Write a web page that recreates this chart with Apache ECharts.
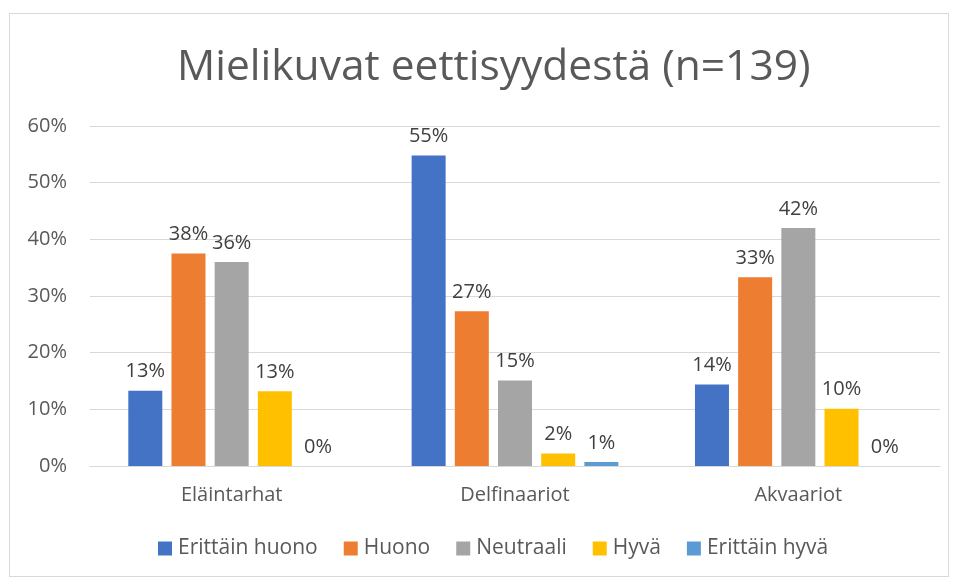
<!DOCTYPE html>
<html>
<head>
<meta charset="utf-8">
<script src="https://cdn.jsdelivr.net/npm/echarts@6/dist/echarts.min.js"></script>
<style>
  html, body { margin: 0; padding: 0; background: #fff; }
  #frame { position: absolute; left: 9px; top: 13px; width: 940px; height: 564px; border: 1px solid #d9d9d9; box-sizing: border-box; }
  #chart { position: absolute; left: 0; top: 0; width: 955px; height: 580px; }
</style>
</head>
<body>
<div id="frame"></div>
<div id="chart"></div>
<script>
const categories = ["Eläintarhat", "Delfinaariot", "Akvaariot"];
const seriesNames = ["Erittäin huono", "Huono", "Neutraali", "Hyvä", "Erittäin hyvä"];
const erittainHuono = [13.3, 54.8, 14.4];
const huono = [37.5, 27.3, 33.3];
const neutraali = [36.0, 15.1, 42.0];
const hyva = [13.2, 2.2, 10.1];
const erittainHyva = [0, 0.7, 0];
const colors = ["#4472C4", "#ED7D31", "#A5A5A5", "#FFC000", "#5B9BD5"];
const yTicks = [0, 10, 20, 30, 40, 50, 60];

const allValues = [erittainHuono, huono, neutraali, hyva, erittainHyva];
const font = "'Open Sans', sans-serif";

const chart = echarts.init(document.getElementById("chart"));
chart.setOption({
  animation: false,
  title: {
    text: "Mielikuvat eettisyydestä (n=139)",
    left: 172,
    top: 41,
    textStyle: { fontFamily: font, fontSize: 42.5, fontWeight: "normal", color: "#595959" }
  },
  legend: {
    bottom: 16,
    left: 153,
    itemWidth: 14,
    itemHeight: 14,
    itemGap: 26,
    icon: "rect",
    textStyle: { fontFamily: font, fontSize: 21, color: "#595959", padding: [0, 0, 0, 1] },
    data: seriesNames
  },
  grid: { left: 90, right: 15, top: 126, bottom: 114, containLabel: false },
  xAxis: {
    type: "category",
    data: categories,
    axisLine: { lineStyle: { color: "#d9d9d9", width: 1 } },
    axisTick: { show: false },
    axisLabel: { fontFamily: font, fontSize: 20, color: "#595959", margin: 19 }
  },
  yAxis: {
    type: "value",
    min: yTicks[0],
    max: yTicks[yTicks.length - 1],
    interval: 10,
    axisLine: { show: false },
    axisTick: { show: false },
    splitLine: { lineStyle: { color: "#d9d9d9", width: 1 } },
    axisLabel: { fontFamily: font, fontSize: 20, color: "#595959", margin: 23, formatter: v => v + "%" }
  },
  series: seriesNames.map((name, i) => ({
    name: name,
    type: "bar",
    data: allValues[i],
    barWidth: 34,
    barGap: "27%",
    itemStyle: { color: colors[i] },
    label: {
      show: true,
      position: "top",
      distance: 9,
      fontFamily: font,
      fontSize: 20,
      color: "#404040",
      formatter: p => Math.round(p.value) + "%"
    }
  }))
});
</script>
</body>
</html>
